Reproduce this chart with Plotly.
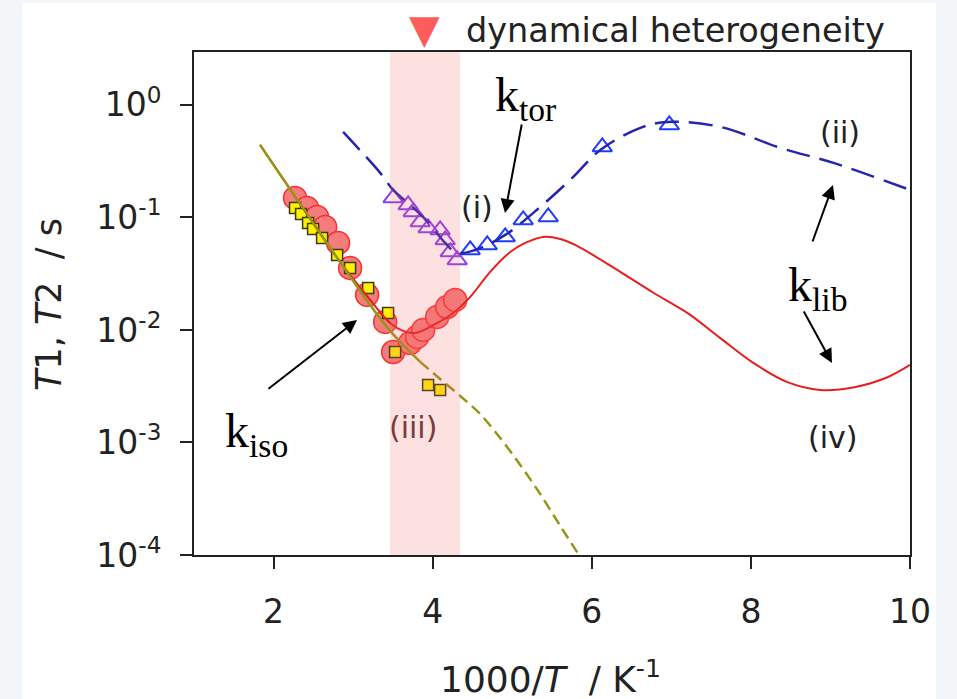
import plotly.graph_objects as go

# ---------------- data ----------------
# red filled circles
CIRC_X = [2.270, 2.421, 2.547, 2.648, 2.811, 2.962, 3.176, 3.403, 3.503, 3.717, 3.805, 3.881, 4.057, 4.182, 4.283]
CIRC_T = [0.149, 0.1214, 0.1010, 0.0823, 0.0593, 0.0356, 0.0205, 0.01178, 0.00637, 0.00766, 0.00867, 0.0100, 0.01305, 0.0160, 0.0185]

# yellow squares
SQ_X = [2.270, 2.346, 2.434, 2.497, 2.610, 2.799, 2.962, 3.189, 3.440, 3.528, 3.943, 4.094]
SQ_T = [0.1214, 0.1074, 0.0893, 0.0790, 0.0657, 0.0464, 0.0356, 0.0236, 0.01416, 0.00637, 0.00324, 0.00293]

# open triangles (purple, in heterogeneity region)
TRI_P_X = [3.503, 3.692, 3.755, 3.843, 3.943, 4.094, 4.157, 4.220, 4.308]
TRI_P_T = [0.149, 0.129, 0.112, 0.0912, 0.0807, 0.0774, 0.0631, 0.0493, 0.0419]

# open triangles (blue)
TRI_B_X = [4.472, 4.686, 4.912, 5.138, 5.453, 6.132, 6.975]
TRI_B_T = [0.0514, 0.0570, 0.0671, 0.0950, 0.101, 0.423, 0.664]

# k_iso curve (olive): solid part then dashed extrapolation
ISO_X = [1.830, 2.333, 2.836, 3.214, 3.465, 3.654, 3.843]
ISO_T = [0.441, 0.132, 0.0402, 0.01667, 0.0098, 0.00706, 0.0052]
ISO_EXT_X = [3.843, 4.094, 4.346, 4.597, 4.849, 5.101, 5.352, 5.604, 5.855]
ISO_EXT_T = [0.0052, 0.00367, 0.00259, 0.00179, 0.001096, 0.000631, 0.000348, 0.000181, 0.0000960]

# red solid curve
RED_X = [1.830, 2.333, 2.836, 3.214, 3.465, 3.629, 3.780, 4.057, 4.258, 4.472, 4.723, 4.975,
         5.164, 5.390, 5.604, 5.792, 6.358, 6.774, 7.201, 7.616, 8.031, 8.459, 8.874, 9.302, 9.717, 10.0]
RED_T = [0.441, 0.132, 0.0402, 0.0185, 0.01154, 0.0098, 0.0094, 0.01154, 0.01416, 0.01965, 0.0328, 0.0493,
         0.0593, 0.0671, 0.0644, 0.0570, 0.0328, 0.0214, 0.01416, 0.00845, 0.00509, 0.00344, 0.00293,
         0.00310, 0.00380, 0.00489]

# blue dashed curve
BLUE_X = [2.874, 3.340, 3.503, 3.717, 3.943, 4.157, 4.308, 4.535, 4.912, 5.352, 5.767, 6.107,
          6.610, 6.950, 7.616, 8.371, 9.038, 10.0]
BLUE_T = [0.575, 0.249, 0.1755, 0.129, 0.0912, 0.0593, 0.0483, 0.0514, 0.0699, 0.124, 0.229, 0.398,
          0.625, 0.706, 0.637, 0.415, 0.305, 0.1755]

# dynamical heterogeneity band and marker position
BAND_X = [3.465, 4.346]
HET_X = 3.9

X_TICKS = [2, 4, 6, 8, 10]
Y_TICKS = [1, 0.1, 0.01, 0.001, 0.0001]
Y_TICK_TEXT = ["10<sup>0</sup>", "10<sup>-1</sup>", "10<sup>-2</sup>", "10<sup>-3</sup>", "10<sup>-4</sup>"]

# ---------------- layout geometry ----------------
W, H = 957, 699
L, R, T, B = 194, 910, 52, 555
OUTER = "#f3f6f9"


def P(px, py):
    return (px - L) / (R - L), (B - py) / (B - T)


SANS = "DejaVu Sans"
SERIF = "Liberation Serif"

fig = go.Figure()

fig.add_trace(go.Scatter(x=CIRC_X, y=CIRC_T, mode="markers",
                         marker=dict(symbol="circle", size=23, color="#f47c7c",
                                     line=dict(color="#ff2a2a", width=1.5))))
fig.add_trace(go.Scatter(x=SQ_X, y=SQ_T, mode="markers",
                         marker=dict(symbol="square", size=11, color="#fff000",
                                     line=dict(color="#3a3a10", width=1.5))))
fig.add_trace(go.Scatter(x=TRI_P_X, y=TRI_P_T, mode="markers",
                         marker=dict(symbol="triangle-up-open", size=17,
                                     color="#8a3cf0", line=dict(width=2))))
fig.add_trace(go.Scatter(x=TRI_B_X, y=TRI_B_T, mode="markers",
                         marker=dict(symbol="triangle-up-open", size=17,
                                     color="#1f3cff", line=dict(width=2))))

fig.add_trace(go.Scatter(x=RED_X, y=RED_T, mode="lines",
                         line=dict(color="#e61e1e", width=2, shape="spline", smoothing=1.0)))
fig.add_trace(go.Scatter(x=ISO_X, y=ISO_T, mode="lines",
                         line=dict(color="#959518", width=2.5, shape="spline", smoothing=0.8)))
fig.add_trace(go.Scatter(x=ISO_EXT_X, y=ISO_EXT_T, mode="lines",
                         line=dict(color="#959518", width=2.5, dash="11px,6px",
                                   shape="spline", smoothing=0.8)))
fig.add_trace(go.Scatter(x=BLUE_X, y=BLUE_T, mode="lines",
                         line=dict(color="#2525b0", width=2.5, dash="24px,10px",
                                   shape="spline", smoothing=1.0)))

shapes = []
# white panel behind the figure
x0, y0 = P(22, 699)
x1, y1 = P(936, 3)
shapes.append(dict(type="rect", xref="paper", yref="paper", x0=x0, y0=y0, x1=x1, y1=y1,
                   fillcolor="white", line=dict(width=0), layer="below"))
# heterogeneity band (overlay)
shapes.append(dict(type="rect", xref="x", yref="paper", x0=BAND_X[0], x1=BAND_X[1], y0=0, y1=1,
                   fillcolor="rgba(245,105,105,0.2)", line=dict(width=0), layer="above"))

ann = []


def text(px, py, s, size, color="#222", family=SANS, xanchor="center", angle=0):
    x, y = P(px, py)
    ann.append(dict(xref="paper", yref="paper", x=x, y=y, text=s, showarrow=False,
                    xanchor=xanchor, yanchor="middle", textangle=angle,
                    font=dict(family=family, size=size, color=color)))


def arrow(tx, ty, hx, hy):
    x, y = P(hx, hy)
    ann.append(dict(xref="paper", yref="paper", x=x, y=y, text="", showarrow=True,
                    axref="pixel", ayref="pixel", ax=tx - hx, ay=ty - hy,
                    arrowhead=2, arrowsize=1.4, arrowwidth=2, arrowcolor="#000", standoff=0))


# marker + label of dynamical heterogeneity
_, ytri = P(0, 29)
ann.append(dict(xref="x", yref="paper", x=HET_X, y=ytri, text="\u25BC", showarrow=False,
                xanchor="center", yanchor="middle",
                font=dict(family=SANS, size=40, color="#ff5c5c")))
text(464, 30, "dynamical heterogeneity", 33.5, xanchor="left")

text(477, 208, "(i)", 30)
text(840, 133, "(ii)", 30)
text(413, 427, "(iii)", 30, color="#7a3c3c")
text(833, 437, "(iv)", 30)

text(525, 98, "k<sub>tor</sub>", 48, color="#000", family=SERIF)
text(817, 288, "k<sub>lib</sub>", 48, color="#000", family=SERIF)
text(256, 434, "k<sub>iso</sub>", 48, color="#000", family=SERIF)

arrow(522, 123, 505, 213)
arrow(267, 390, 357, 320)
arrow(812, 243, 833, 185)
arrow(803, 310, 832, 363)

# axis titles
text(49, 305, "<i>T</i>1, <i>T</i>2\u00a0\u00a0/ s", 35, angle=-90)
text(550, 677, "1000/<i>T</i>\u00a0\u00a0/ K<sup>-1</sup>", 36)

axis_common = dict(showline=True, linecolor="#222", linewidth=2, mirror=True,
                   ticks="outside", ticklen=12, tickwidth=2, tickcolor="#222",
                   showgrid=False, zeroline=False,
                   tickfont=dict(family=SANS, size=33, color="#222"))

fig.update_layout(
    width=W, height=H,
    margin=dict(l=L, r=W - R, t=T, b=H - B, pad=0),
    paper_bgcolor=OUTER, plot_bgcolor="white",
    showlegend=False,
    xaxis=dict(range=[1, 10], tickvals=X_TICKS, ticktext=[str(v) for v in X_TICKS],
               ticklabelstandoff=14, **axis_common),
    yaxis=dict(type="log", range=[-4, 0.47], tickvals=Y_TICKS, ticktext=Y_TICK_TEXT,
               ticklabelstandoff=12, **axis_common),
    shapes=shapes, annotations=ann,
)

fig.write_html("out.html", config={"displayModeBar": False},
               post_script="document.body.style.margin='0';document.body.style.background='%s';" % OUTER)
